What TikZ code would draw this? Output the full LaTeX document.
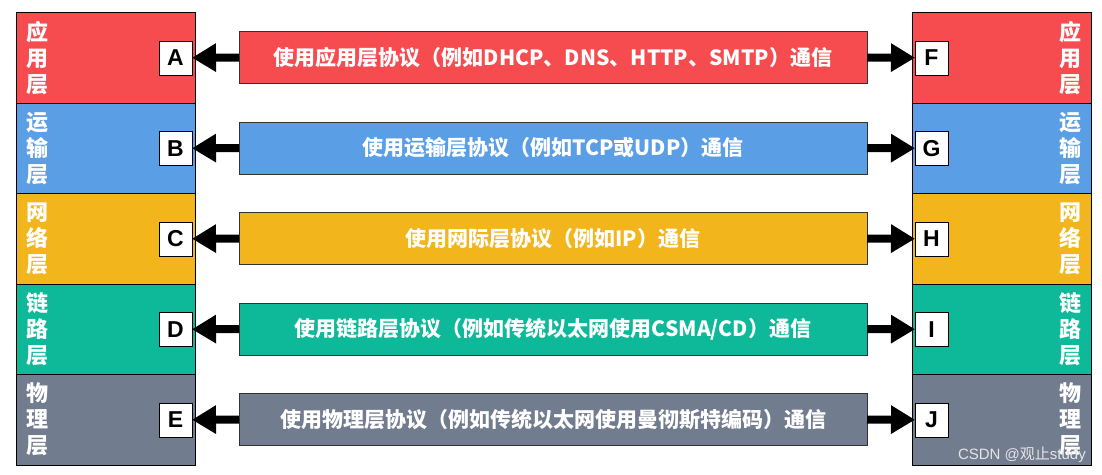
\documentclass[tikz,border=0pt]{standalone}
\usepackage{fontspec}
\setmainfont{Liberation Sans}
\newfontfamily\cjk{Noto Sans CJK SC}
\usepackage{xcolor}
\usepackage{tikz}
\usetikzlibrary{positioning,arrows.meta}

\definecolor{appred}{HTML}{F74C4F}
\definecolor{tranblue}{HTML}{5A9EE6}
\definecolor{netyellow}{HTML}{F2B51C}
\definecolor{linkgreen}{HTML}{0EB99A}
\definecolor{phygray}{HTML}{727C8F}

\begin{document}
\begin{tikzpicture}[
            x=1pt, y=-1pt,
            layer/.style={draw=black, thin, minimum width=179pt, minimum height=90.5pt, inner sep=0pt, outer sep=0pt},
            tag/.style={draw=black, thin, fill=white, minimum width=33pt, minimum height=34pt, inner sep=0pt, outer sep=0pt, font=\bfseries\fontsize{23}{23}\selectfont},
            bar/.style={draw=black!80, thin, minimum width=628pt, minimum height=52pt, inner sep=0pt, outer sep=0pt, text=white, font=\cjk\bfseries\fontsize{21}{21}\selectfont},
            layername/.style={text=white, align=center, inner sep=0pt, font=\cjk\bfseries\fontsize{22}{26}\selectfont},
            link/.style={line width=8pt, -{Triangle[length=24pt, width=27pt]}}
        ]
            \useasboundingbox (0,0) rectangle (1102,474);
            % Left stack
            \node[layer, fill=appred]    (la) at (105.5, 57.75) {};
            \node[layer, fill=tranblue]  (lb) at (105.5,148.25) {};
            \node[layer, fill=netyellow] (lc) at (105.5,238.75) {};
            \node[layer, fill=linkgreen] (ld) at (105.5,329.25) {};
            \node[layer, fill=phygray]   (le) at (105.5,419.75) {};
            % Right stack
            \node[layer, fill=appred]    (ra) at (1001.5, 57.75) {};
            \node[layer, fill=tranblue]  (rb) at (1001.5,148.25) {};
            \node[layer, fill=netyellow] (rc) at (1001.5,238.75) {};
            \node[layer, fill=linkgreen] (rd) at (1001.5,329.25) {};
            \node[layer, fill=phygray]   (re) at (1001.5,419.75) {};
            % Layer names
            \node[layername] (nla) at (37, 57.75) {应\\用\\层};
            \node[layername] (nlb) at (37,148.25) {运\\输\\层};
            \node[layername] (nlc) at (37,238.75) {网\\络\\层};
            \node[layername] (nld) at (37,329.25) {链\\路\\层};
            \node[layername] (nle) at (37,419.75) {物\\理\\层};
            \node[layername] (nra) at (1070, 57.75) {应\\用\\层};
            \node[layername] (nrb) at (1070,148.25) {运\\输\\层};
            \node[layername] (nrc) at (1070,238.75) {网\\络\\层};
            \node[layername] (nrd) at (1070,329.25) {链\\路\\层};
            \node[layername] (nre) at (1070,419.75) {物\\理\\层};
            % Tags
            \node[tag, anchor=east] (A) at ([xshift=-3pt]la.east) {A};
            \node[tag, anchor=east] (B) at ([xshift=-3pt]lb.east) {B};
            \node[tag, anchor=east] (C) at ([xshift=-3pt]lc.east) {C};
            \node[tag, anchor=east] (D) at ([xshift=-3pt]ld.east) {D};
            \node[tag, anchor=east] (E) at ([xshift=-3pt]le.east) {E};
            \node[tag, anchor=west] (F) at ([xshift=3pt]ra.west) {F};
            \node[tag, anchor=west] (G) at ([xshift=3pt]rb.west) {G};
            \node[tag, anchor=west] (H) at ([xshift=3pt]rc.west) {H};
            \node[tag, anchor=west] (I) at ([xshift=3pt]rd.west) {I};
            \node[tag, anchor=west] (J) at ([xshift=3pt]re.west) {J};
            % Protocol bars
            \node[bar, fill=appred]    (pa) at (553, 57.5) {使用应用层协议（例如DHCP、DNS、HTTP、SMTP）通信};
            \node[bar, fill=tranblue]  (pb) at (553,148)   {使用运输层协议（例如TCP或UDP）通信};
            \node[bar, fill=netyellow] (pc) at (553,238.5) {使用网际层协议（例如IP）通信};
            \node[bar, fill=linkgreen] (pd) at (553,329)   {使用链路层协议（例如传统以太网使用CSMA/CD）通信};
            \node[bar, fill=phygray]   (pe) at (553,419.5) {使用物理层协议（例如传统以太网使用曼彻斯特编码）通信};
            % Arrows
            \draw[link] (pa.west) -- (A.east);
            \draw[link] (pb.west) -- (B.east);
            \draw[link] (pc.west) -- (C.east);
            \draw[link] (pd.west) -- (D.east);
            \draw[link] (pe.west) -- (E.east);
            \draw[link] (pa.east) -- (F.west);
            \draw[link] (pb.east) -- (G.west);
            \draw[link] (pc.east) -- (H.west);
            \draw[link] (pd.east) -- (I.west);
            \draw[link] (pe.east) -- (J.west);
            % Watermark
            \node[anchor=south east, inner sep=0pt, text=white!80!gray, font=\fontsize{15}{15}\selectfont] (mark) at (1086,463) {CSDN @{\cjk 观止}study};
        \end{tikzpicture}
\end{document}
